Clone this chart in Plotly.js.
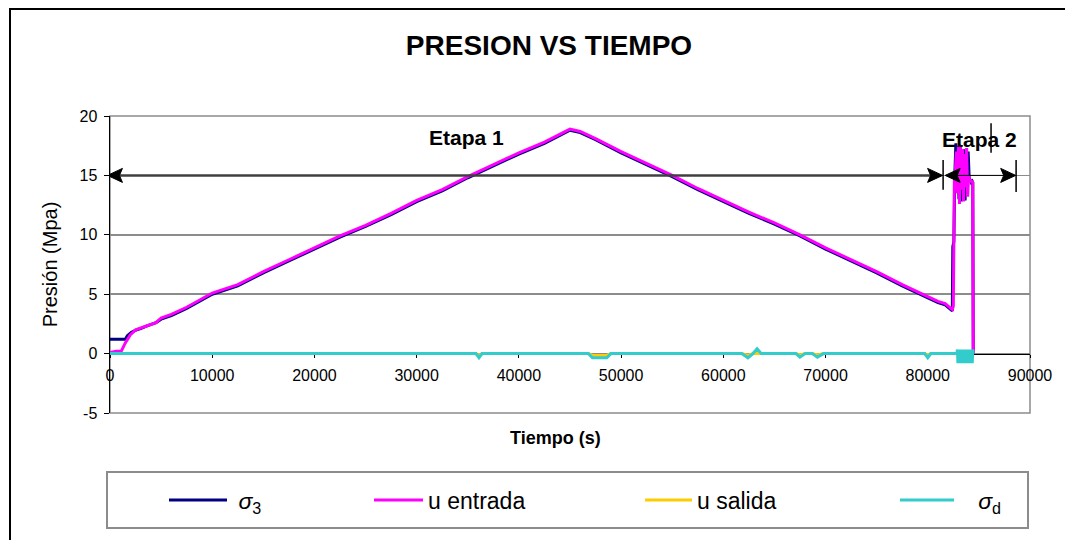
<!DOCTYPE html>
<html>
<head>
<meta charset="utf-8">
<script src="https://cdn.plot.ly/plotly-3.0.1.min.js"></script>
<style>
  html, body { margin: 0; padding: 0; background: #fff; }
  #chart { width: 1065px; height: 540px; }
</style>
</head>
<body>
<div id="chart"></div>
<script>
// ---- Data ----
const seriesNames = ['<i>σ</i><sub>3</sub>', 'u entrada', 'u salida', '<i>σ</i><sub>d</sub>'];

const tiempoSigma3 = [0, 500, 1000, 1500, 1700, 2100, 2600, 3000, 3500, 4500,
  5000, 6000, 7500, 10000, 12500, 15000, 17500, 20000, 22500, 25000,
  27500, 30000, 32500, 35000, 37500, 40000, 42500, 45000, 46000, 47500,
  50000, 52500, 55000, 57500, 60000, 62500, 65000, 67500, 70000, 72500,
  75000, 77500, 80000, 81000, 81700, 82300, 82400, 82450, 82550, 82650,
  82750, 82850, 82950, 83050, 83150, 83250, 83350, 83450, 83550, 83650,
  83750, 83850, 83950, 84050, 84150, 84250, 84350, 84400, 84450];
const sigma3 = [1.2, 1.2, 1.2, 1.2, 1.5, 1.8, 2.0, 2.1, 2.3, 2.6,
  2.9, 3.2, 3.8, 5.0, 5.7, 6.8, 7.8, 8.8, 9.8, 10.7,
  11.7, 12.8, 13.7, 14.8, 15.8, 16.8, 17.7, 18.8, 18.6, 18.0,
  16.9, 15.9, 14.9, 13.8, 12.8, 11.8, 10.9, 9.9, 8.8, 7.8,
  6.8, 5.7, 4.7, 4.3, 4.1, 3.7, 3.6, 9.0, 9.4, 15.2,
  17.7, 16.2, 17.5, 13.0, 17.4, 12.8, 16.9, 13.9, 17.2, 12.9,
  16.8, 14.1, 17.0, 14.8, 14.6, 14.4, 14.5, 14.4, 0];

const tiempoEntrada = [0, 600, 1100, 1500, 2000, 2500, 3500, 4500, 5000, 6000,
  7500, 10000, 12500, 15000, 17500, 20000, 22500, 25000, 27500, 30000,
  32500, 35000, 37500, 40000, 42500, 45000, 46000, 47500, 50000, 52500,
  55000, 57500, 60000, 62500, 65000, 67500, 70000, 72500, 75000, 77500,
  80000, 81000, 81700, 82300, 82400, 82500, 82600, 82700, 82800, 82900,
  83000, 83100, 83200, 83300, 83400, 83500, 83600, 83700, 83800, 83900,
  84000, 84100, 84200, 84300, 84400, 84450];
const uEntrada = [0.1, 0.2, 0.2, 0.9, 1.6, 2.0, 2.3, 2.6, 3.0, 3.3,
  3.9, 5.1, 5.8, 6.9, 7.9, 8.9, 9.9, 10.8, 11.8, 12.9,
  13.8, 14.9, 15.9, 16.9, 17.8, 18.9, 18.7, 18.1, 17.0, 16.0,
  15.0, 13.9, 12.9, 11.9, 11.0, 10.0, 8.9, 7.9, 6.9, 5.8,
  4.8, 4.4, 4.2, 3.8, 3.7, 4.0, 14.5, 15.5, 17.0, 13.5,
  17.4, 12.6, 17.5, 13.8, 17.2, 12.8, 16.8, 14.0, 17.3, 13.2,
  15.0, 14.6, 14.5, 14.5, 14.4, 0];

const tiempoSalida = [0, 35800, 36100, 36400, 46800, 47200, 48600, 49000, 61800, 62400,
  62900, 67100, 67500, 68000, 68700, 69200, 69800, 79700, 80000, 80300, 84450];
const uSalida = [0, 0, -0.15, 0, 0, -0.15, -0.15, 0, 0, -0.15,
  0, 0, -0.12, 0, 0, -0.12, 0, 0, -0.15, 0, 0];

const tiempoDesv = [0, 35800, 36100, 36400, 46800, 47200, 48600, 49000, 61800, 62400,
  62900, 63300, 63700, 67100, 67500, 68000, 68700, 69200, 69800, 79700,
  80000, 80300, 82850,
  82900, 82950, 83000, 83050, 83100, 83150, 83200, 83250, 83300, 83350,
  83400, 83450, 83500, 83550, 83600, 83650, 83700, 83750, 83800, 83850,
  83900, 83950, 84000, 84050, 84100, 84150, 84200, 84250, 84300, 84350,
  84400, 84450];
const sigmaD = [0, 0, -0.35, 0, 0, -0.35, -0.35, 0, 0, -0.35,
  0, 0.4, 0, 0, -0.3, 0, 0, -0.3, 0, 0,
  -0.35, 0, 0,
  0.35, -0.8, 0.35, -0.8, 0.35, -0.8, 0.35, -0.8, 0.35, -0.8,
  0.35, -0.8, 0.35, -0.8, 0.35, -0.8, 0.35, -0.8, 0.35, -0.8,
  0.35, -0.8, 0.35, -0.8, 0.35, -0.8, 0.35, -0.8, 0.35, -0.8,
  0.35, 0];

const xTickVals = [0, 10000, 20000, 30000, 40000, 50000, 60000, 70000, 80000, 90000];
const xTickText = ['0', '10000', '20000', '30000', '40000', '50000', '60000', '70000', '80000', '90000'];
const yTickVals = [-5, 0, 5, 10, 15, 20];
const yTickText = ['-5', '0', '5', '10', '15', '20'];
const stageLabels = ['Etapa 1', 'Etapa 2'];

// ---- Styles ----
const FONT = '"Liberation Sans", Arial, sans-serif';
const colors = ['#000080', '#FF00FF', '#FFCC00', '#33CCCC'];

const traces = [
  {x: tiempoSigma3, y: sigma3, name: '\u00a0' + seriesNames[0], legend: 'legend'},
  {x: tiempoEntrada, y: uEntrada, name: seriesNames[1], legend: 'legend2'},
  {x: tiempoSalida, y: uSalida, name: seriesNames[2], legend: 'legend3'},
  {x: tiempoDesv, y: sigmaD, name: '\u00a0\u00a0\u00a0' + seriesNames[3], legend: 'legend4'}
].map((t, i) => Object.assign(t, {
  type: 'scatter', mode: 'lines',
  line: {color: colors[i], width: 3},
  hoverinfo: 'skip'
}));

// pixel -> paper helpers (plot area 110..1030 x 116..413)
const PL = 110, PR = 1030, PT = 116, PB = 413;
const px2x = p => (p - PL) / (PR - PL);
const py2y = p => (PB - p) / (PB - PT);

function mkLegend(xpx, itemw) {
  return {
    x: px2x(xpx), y: py2y(500), xanchor: 'left', yanchor: 'middle',
    orientation: 'h', bgcolor: 'rgba(0,0,0,0)', borderwidth: 0,
    itemwidth: itemw, font: {family: FONT, size: 23, color: '#000'}
  };
}

// arrowhead path shapes (pixel sized, anchored in data coords)
function head(xa, ya, dir, color) {
  const s = dir; // +1 points right, -1 points left
  return {
    type: 'path', xref: 'x', yref: 'y', xsizemode: 'pixel', ysizemode: 'pixel',
    xanchor: xa, yanchor: ya,
    path: `M0,0 L${-15 * s},-7 L${-12 * s},0 L${-15 * s},7 Z`,
    fillcolor: color, line: {color: color, width: 1}
  };
}

const layout = {
  width: 1065, height: 540,
  margin: {l: 110, r: 35, t: 116, b: 127},
  paper_bgcolor: '#ffffff', plot_bgcolor: '#ffffff',
  font: {family: FONT, color: '#000'},
  title: {
    text: '<b>PRESION VS TIEMPO</b>',
    font: {family: FONT, size: 28, color: '#000'},
    x: 549 / 1065, xref: 'container', xanchor: 'center',
    y: 1 - 45 / 540, yref: 'container', yanchor: 'middle'
  },
  xaxis: {
    range: [0, 90000], tickvals: xTickVals, ticktext: xTickText,
    anchor: 'free', position: 0.2,
    showline: true, linecolor: '#000', linewidth: 1,
    ticks: 'outside', ticklen: 3, tickcolor: '#000', tickwidth: 1,
    showgrid: false, zeroline: false, layer: 'below traces',
    tickfont: {family: FONT, size: 16, color: '#000'},
    ticklabelstandoff: 4, fixedrange: true
  },
  yaxis: {
    range: [-5, 20], tickvals: yTickVals, ticktext: yTickText,
    showline: true, linecolor: '#000', linewidth: 1.5,
    ticks: 'outside', ticklen: 5, tickcolor: '#000', tickwidth: 1,
    showgrid: true, gridcolor: '#8c8c8c', gridwidth: 1.5,
    zeroline: false, layer: 'below traces',
    tickfont: {family: FONT, size: 16, color: '#000'},
    ticklabelstandoff: 3,
    title: {text: 'Presión (Mpa)', font: {family: FONT, size: 20, color: '#000'}, standoff: 16},
    fixedrange: true
  },
  showlegend: true,
  legend: mkLegend(164, 58),
  legend2: mkLegend(369, 49),
  legend3: mkLegend(640, 47),
  legend4: mkLegend(895, 54),
  shapes: [
    // plot area border (gray)
    {type: 'rect', xref: 'paper', yref: 'paper', x0: 0, x1: 1, y0: 0, y1: 1,
     line: {color: '#8c8c8c', width: 1.5}, layer: 'below'},
    // outer chart frame
    {type: 'rect', xref: 'paper', yref: 'paper', x0: px2x(10), x1: px2x(1080), y0: py2y(560), y1: py2y(9),
     line: {color: '#000', width: 2}, layer: 'below'},
    // legend box
    {type: 'rect', xref: 'paper', yref: 'paper', x0: px2x(107), x1: px2x(1028), y0: py2y(528), y1: py2y(472),
     line: {color: '#8c8c8c', width: 2}, layer: 'below'},
    // stage 1 double arrow
    {type: 'line', xref: 'x', yref: 'y', x0: 0, x1: 81300, y0: 15, y1: 15,
     line: {color: '#404040', width: 2.5}},
    head(-250, 15, -1, '#000'),
    head(81450, 15, 1, '#000'),
    // stage 2 double arrow
    {type: 'line', xref: 'x', yref: 'y', x0: 81800, x1: 88500, y0: 15, y1: 15,
     line: {color: '#000', width: 1}},
    head(81700, 15, -1, '#000'),
    head(88600, 15, 1, '#000'),
    // stage separator bars
    {type: 'line', xref: 'x', yref: 'y', x0: 81500, x1: 81500, y0: 13.8, y1: 16.3,
     line: {color: '#000', width: 1.5}},
    {type: 'line', xref: 'x', yref: 'y', x0: 88640, x1: 88640, y0: 13.6, y1: 16.3,
     line: {color: '#000', width: 1.5}},
    {type: 'line', xref: 'x', yref: 'y', x0: 86190, x1: 86190, y0: 16.9, y1: 19.4,
     line: {color: '#000', width: 1.5}}
  ],
  annotations: [
    {xref: 'x', yref: 'y', x: 34900, y: 18.2, text: '<b>' + stageLabels[0] + '</b>', showarrow: false,
     font: {family: FONT, size: 21, color: '#000'}},
    {xref: 'x', yref: 'y', x: 85100, y: 18.0, text: '<b>' + stageLabels[1] + '</b>', showarrow: false,
     font: {family: FONT, size: 21, color: '#000'}},
    // x axis title
    {xref: 'paper', yref: 'paper', x: px2x(555), y: py2y(438), text: '<b>Tiempo (s)</b>', showarrow: false,
     font: {family: FONT, size: 18, color: '#000'}, xanchor: 'center', yanchor: 'middle'}
  ]
};

Plotly.newPlot('chart', traces, layout, {displayModeBar: false, staticPlot: true});
</script>
</body>
</html>
